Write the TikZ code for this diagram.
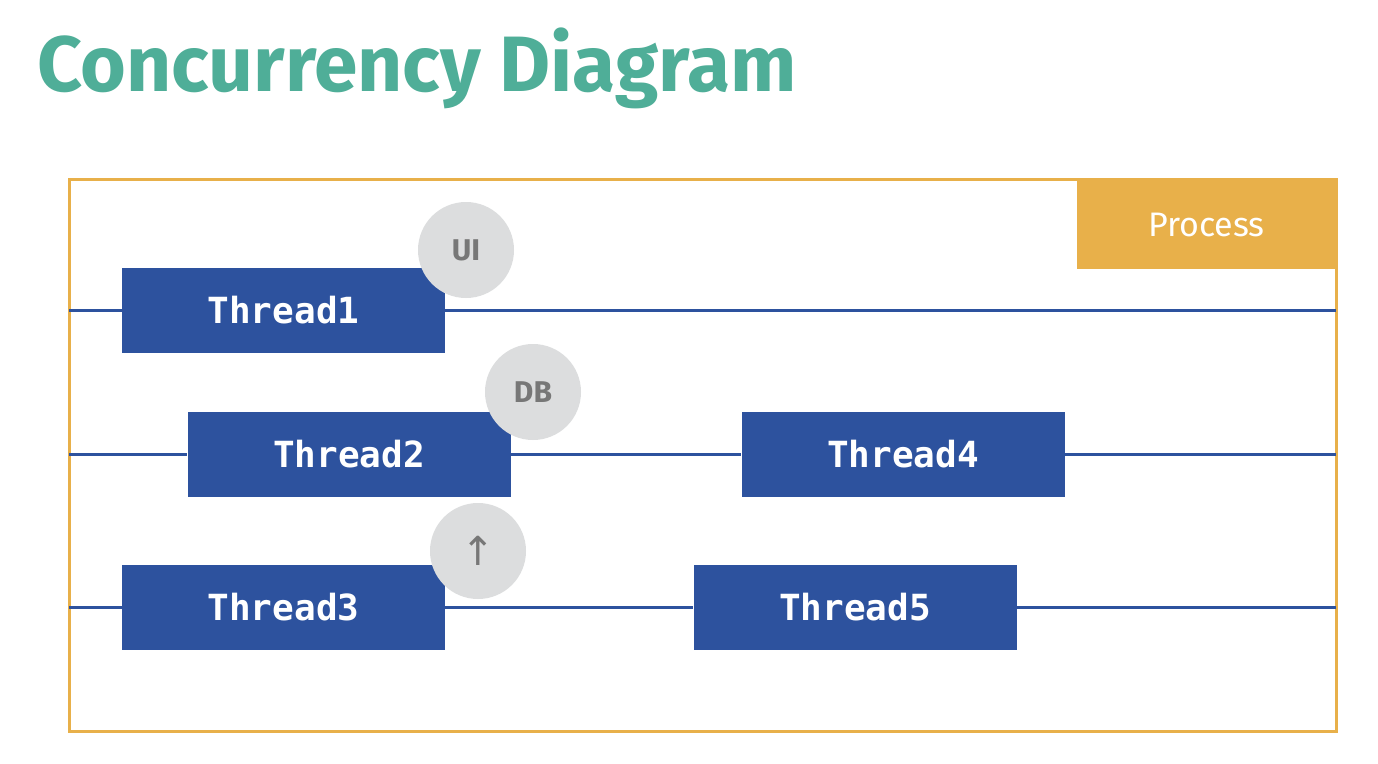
\documentclass[tikz,border=0pt]{standalone}
\usepackage{fontspec}
\setmainfont{Fira Sans}
\newfontfamily\threadfont{DejaVu Sans Mono}
\newfontfamily\symfont{DejaVu Sans}
\definecolor{titlegreen}{HTML}{4FAE98}
\definecolor{frameorange}{HTML}{E8B04A}
\definecolor{threadblue}{HTML}{2D529E}
\definecolor{circlegray}{HTML}{DCDDDE}
\definecolor{labelgray}{HTML}{777777}
\tikzset{
  threadbox/.style={draw=none, fill=threadblue, minimum width=323pt, minimum height=85pt, inner sep=0pt,
    text=white, font=\threadfont\bfseries\fontsize{36}{40}\selectfont},
  badge/.style={circle, fill=circlegray, minimum size=96pt, inner sep=0pt, text=labelgray,
    font=\bfseries\fontsize{30}{34}\selectfont},
  lane/.style={draw=threadblue, line width=3pt},
}
\begin{document}
\begin{tikzpicture}[x=1pt,y=-1pt]
\useasboundingbox (0,0) rectangle (1378,763);
\fill[white] (0,0) rectangle (1378,763);
% title
\node[anchor=base west, inner sep=0pt, text=titlegreen, font=\bfseries\fontsize{78.5}{82}\selectfont] (title) at (37,91) {Concurrency Diagram};
% frame
\node[draw=frameorange, line width=3pt, minimum width=1267pt, minimum height=552pt, inner sep=0pt] (frame) at (702.5,455) {};
\node[fill=frameorange, minimum width=259pt, minimum height=89pt, inner sep=0pt, text=white,
  font=\fontsize{34}{36}\selectfont] (process) at (1206.5,224.5) {Process};
% lane endpoints
\coordinate (l1) at (69,310.5);
\coordinate (r1) at (1336,310.5);
\coordinate (l2) at (69,454.5);
\coordinate (r2) at (1336,454.5);
\coordinate (l3) at (69,607.5);
\coordinate (r3) at (1336,607.5);
% threads
\node[threadbox] (t1) at (283.5,310.5) {Thread1};
\node[threadbox] (t2) at (349,454.5) {Thread2};
\node[threadbox] (t4) at (903,454.5) {Thread4};
\node[threadbox] (t3) at (283.5,607.5) {Thread3};
\node[threadbox] (t5) at (855,607.5) {Thread5};
% lanes
\draw[lane] (l1) -- (t1.west);
\draw[lane] (t1.east) -- (r1);
\draw[lane] (l2) -- (t2.west);
\draw[lane] (t2.east) -- (t4.west);
\draw[lane] (t4.east) -- (r2);
\draw[lane] (l3) -- (t3.west);
\draw[lane] (t3.east) -- (t5.west);
\draw[lane] (t5.east) -- (r3);
% badges
\node[badge] (ui) at (466,250) {UI};
\node[badge] (db) at (533,392) {DB};
\node[badge, font=\symfont\fontsize{40}{44}\selectfont] (up) at (478,551) {↑};
\end{tikzpicture}
\end{document}
